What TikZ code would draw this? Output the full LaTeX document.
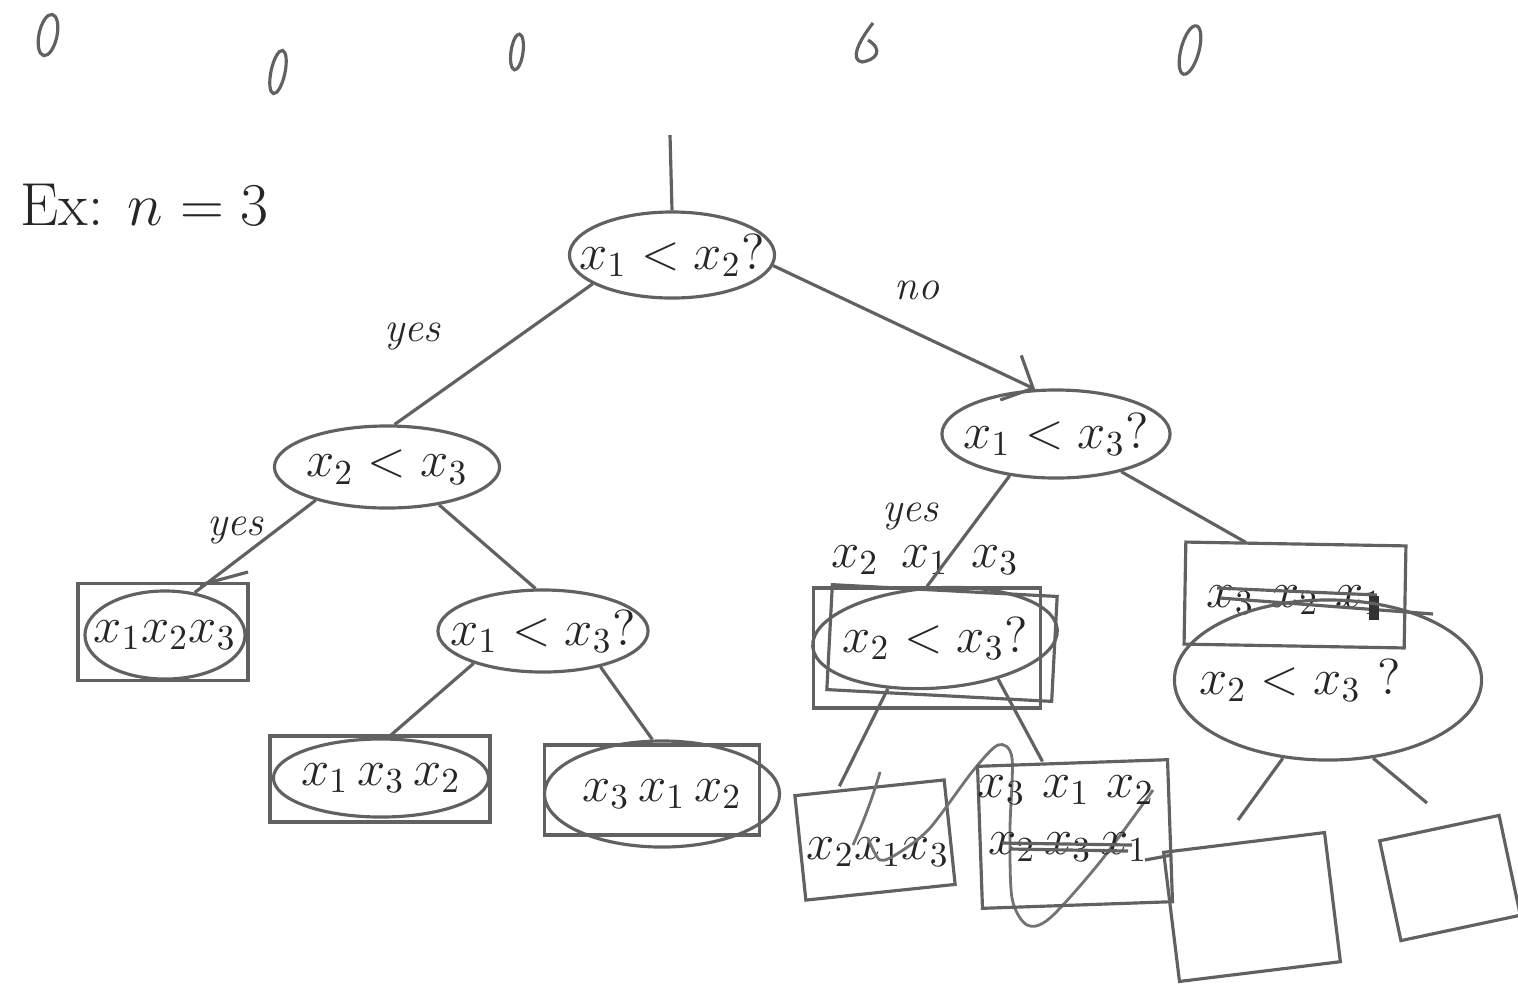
\documentclass[tikz,border=0pt]{standalone}
\usetikzlibrary{shapes.geometric,arrows.meta}
\begin{document}
\begin{tikzpicture}[x=0.01cm, y=-0.01cm,
  ln/.style={draw=black!62, line width=0.9pt},
  dec/.style={ellipse, ln, inner sep=0pt},
  boxn/.style={rectangle, ln, inner sep=0pt},
  lbl/.style={text=black!85, font=\large\itshape},
  txt/.style={text=black!85, font=\Large},
  every label/.style={text=black!85, font=\Large},
  scrib/.style={draw=black!55, line width=0.8pt}]
\useasboundingbox (0,0) rectangle (1518,993);

% top marks
\draw[ln] (48,35) ellipse [x radius=0.09cm, y radius=0.21cm, rotate=-12];
\draw[ln] (278,72) ellipse [x radius=0.07cm, y radius=0.22cm, rotate=-12];
\draw[ln] (517,52) ellipse [x radius=0.06cm, y radius=0.18cm, rotate=-8];
\draw[ln] (873,23) .. controls (858,42) and (850,60) .. (862,62) .. controls (876,60) and (884,50) .. (868,40);
\draw[ln] (1190,50) ellipse [x radius=0.09cm, y radius=0.25cm, rotate=-15];

% title
\node[txt, font=\LARGE, anchor=west] (ex) at (8,205) {Ex: $n=3$};

% root
\coordinate (top) at (670,135);
\node[dec, minimum width=2.05cm, minimum height=0.86cm, label=center:{$x_1<x_2$?}] (root) at (672,255) {};
\draw[ln] (top) -- (root.north);

% level 1
\node[dec, minimum width=2.25cm, minimum height=0.82cm, label=center:{$x_2<x_3$}] (L) at (387,467) {};
\node[dec, minimum width=2.28cm, minimum height=0.88cm, label=center:{$x_1<x_3$?}] (R) at (1056,434) {};
\draw[ln] (root.200) -- (L.80);
\draw[ln, -{Straight Barb[length=7pt]}] (root.354) -- (R.115);
\node[lbl] (yes1) at (412,336) {yes};
\node[lbl] (no1) at (917,290) {no};

% left subtree
\node[boxn, minimum width=1.7cm, minimum height=0.97cm] (LLb) at (163,632) {};
\node[dec, minimum width=1.6cm, minimum height=0.88cm, label=center:{$x_1x_2x_3$}] (LL) at (165,635) {};
\draw[ln] (L.205) -- (LL.55);
\draw[ln] (200,585) -- (248,572);
\node[lbl] (yes2) at (235,530) {yes};

\node[dec, minimum width=2.1cm, minimum height=0.82cm, label=center:{$x_1<x_3$?}] (LR) at (543,631) {};
\draw[ln] (L.324) -- (LR.100);

\node[boxn, minimum width=2.2cm, minimum height=0.86cm] (LRLb) at (380,779) {};
\node[dec, minimum width=2.15cm, minimum height=0.78cm, label=center:{$x_1\,x_3\,x_2$}] (LRL) at (381,778) {};
\node[boxn, minimum width=2.15cm, minimum height=0.9cm] (LRRb) at (652,790) {};
\node[dec, minimum width=2.35cm, minimum height=1.06cm, label=center:{$x_3\,x_1\,x_2$}] (LRR) at (662,794) {};
\draw[ln] (LR.205) -- (LRL.80);
\draw[ln] (LR.328) -- (LRR.100);

% right subtree, yes branch
\node[lbl] (yes3) at (910,516) {yes};
\node[txt] (RLtop) at (925,560) {$x_2\;\,x_1\;\,x_3$};
\node[boxn, minimum width=2.27cm, minimum height=1.2cm] (RLb1) at (927,648) {};
\node[boxn, minimum width=2.25cm, minimum height=1.05cm, rotate=-3] (RLb2) at (942,643) {};
\node[dec, minimum width=2.45cm, minimum height=1.0cm, rotate=4, label=center:{$x_2<x_3$?}] (RL) at (935,638) {};
\draw[ln] (R.222) -- (RLb1.north);

\node[boxn, minimum width=1.5cm, minimum height=1.05cm, rotate=6] (RLLb) at (875,840) {};
\node[txt] (RLLt) at (878,852) {$x_2x_1x_3$};
\draw[ln] (RL.223) -- ([xshift=-0.3cm]RLLb.north);
\draw[scrib] (880,772) .. controls (872,800) and (862,825) .. (853,845);
\draw[scrib] plot[smooth] coordinates {(868,838) (880,860) (900,852) (930,828) (972,772) (998,745) (1012,758) (1010,830) (1012,898) (1027,925) (1050,918) (1100,862) (1153,790)};

\node[boxn, minimum width=1.9cm, minimum height=1.42cm, rotate=2] (RLRb) at (1075,834) {};
\node[txt] (RLRt1) at (1066,790) {$x_3\,\,x_1\,\,x_2$};
\node[txt] (RLRt2) at (1068,847) {$x_2\,x_3\,x_1$};
\draw[ln] (RL.323) -- ([xshift=-0.3cm]RLRb.north);
\draw[ln] (1002,843) -- (1132,845);
\draw[ln] (1010,849) -- (1128,851);

% right subtree, no branch
\node[boxn, minimum width=2.2cm, minimum height=1.02cm, rotate=-1] (RRb) at (1295,595) {};
\node[txt] (RRt) at (1295,600) {$x_3\,\,x_2\,\,x_1$};
\draw[ln] (R.330) -- ([xshift=-0.5cm]RRb.north);
\draw[ln] (1217,588) -- (1377,595);
\draw[ln] (1220,598) -- (1433,614);
\draw[draw=black!80, line width=3pt] (1374,596) -- (1374,620);

\node[dec, minimum width=3.07cm, minimum height=1.6cm] (RR) at (1328,680) {};
\node[txt] (RRq) at (1300,680) {$x_2<x_3$ ?};
\coordinate (rrl) at (1238,820);
\coordinate (rrr) at (1427,803);
\draw[ln] (RR.240) -- (rrl);
\draw[ln] (RR.300) -- (rrr);

\node[boxn, minimum width=1.62cm, minimum height=1.3cm, rotate=7] (RRLb) at (1252,907) {};
\node[boxn, minimum width=1.22cm, minimum height=1.02cm, rotate=12] (RRRb) at (1450,878) {};
\draw[ln] (1145,860) -- (1172,855);
\end{tikzpicture}
\end{document}
